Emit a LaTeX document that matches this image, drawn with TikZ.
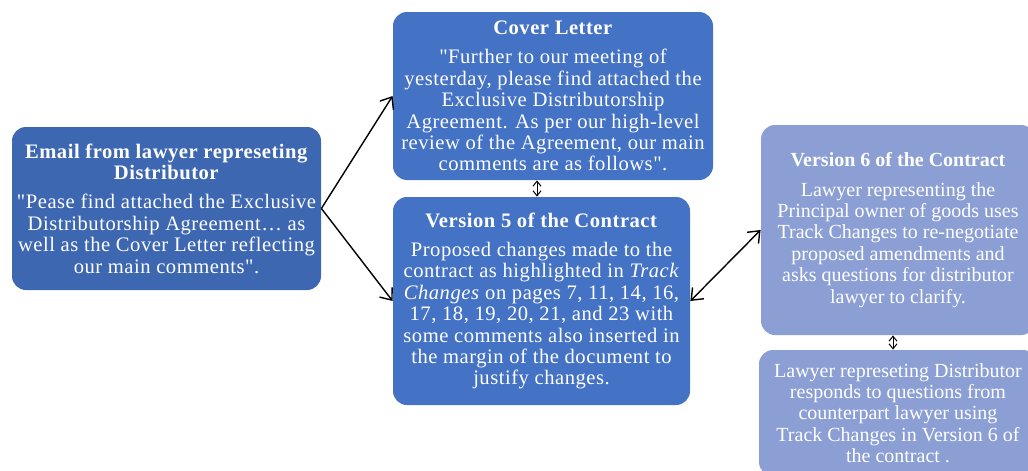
\documentclass[tikz,border=0pt]{standalone}
\usepackage{fontspec}
\setmainfont{Liberation Serif}[LetterSpace=2.5, Ligatures=TeXOff]
\newfontfamily\plainserif{Liberation Serif}[Ligatures=TeXOff]
\usetikzlibrary{arrows.meta}
\definecolor{darkblue}{RGB}{62,103,178}
\definecolor{midblue}{RGB}{68,114,196}
\definecolor{paleblue}{RGB}{140,159,212}

\begin{document}
\begin{tikzpicture}[x=0.5pt, y=-0.5pt,
  box/.style={rounded corners=7pt, align=center, inner sep=0pt, text=white,
    font=\fontsize{10.3}{10.7}\selectfont},
  narrowbox/.style={box, font=\plainserif\fontsize{10}{10.7}\selectfont},
  link/.style={line width=0.7pt, -{Straight Barb[length=5pt,width=8pt]}},
  twolink/.style={line width=0.7pt, {Straight Barb[length=5pt,width=8pt]}-{Straight Barb[length=5pt,width=8pt]}},
  tinylink/.style={line width=0.5pt, {Straight Barb[length=2.5pt,width=4pt]}-{Straight Barb[length=2.5pt,width=4pt]}}]
\useasboundingbox (0, 0) rectangle (1028, 471);
\clip (0, 0) rectangle (1028, 471);
\node [box, fill=darkblue, minimum width=154.5pt, minimum height=81.5pt] (email) at (166.5, 208.5)
  {\textbf{Email from lawyer represeting}\\\textbf{Distributor}\\[4pt]
   "Pease find attached the Exclusive\\Distributorship Agreement… as\\
   well as the Cover Letter reflecting\\our main comments".};
\node [box, fill=midblue, minimum width=160pt, minimum height=84pt] (cover) at (553, 96)
  {\textbf{Cover Letter}\\[4pt]
   "Further to our meeting of\\yesterday, please find attached the\\
   Exclusive Distributorship\\Agreement. As per our high-level\\
   review of the Agreement, our main\\comments are as follows".};
\node [box, fill=midblue, minimum width=148.5pt, minimum height=104pt] (vfive) at (541.5, 301)
  {\textbf{Version 5 of the Contract}\\[4pt]
   Proposed changes made to the\\contract as highlighted in \textit{Track}\\
   \textit{Changes} on pages 7, 11, 14, 16,\\17, 18, 19, 20, 21, and 23 with\\
   some comments also inserted in\\the margin of the document to\\justify changes.};
\node [narrowbox, fill=paleblue, minimum width=137pt, minimum height=105pt] (vsix) at (898, 230)
  {\textbf{Version 6 of the Contract}\\[4pt]
   Lawyer representing the\\Principal owner of goods uses\\
   Track Changes to re-negotiate\\proposed amendments and\\
   asks questions for distributor\\lawyer to clarify.};
\node [narrowbox, fill=paleblue, minimum width=139pt, minimum height=63pt] (reply) at (898, 413)
  {Lawyer represeting Distributor\\responds to questions from\\
   counterpart lawyer using\\Track Changes in Version 6 of\\the contract .};
\draw [link] (email.east) -- (cover.west);
\draw [link] (email.east) -- (vfive.west);
\draw [twolink] (vfive.east) -- (vsix.west);
\draw [tinylink] ([xshift=-8pt]cover.south) -- ([xshift=-8pt]cover.south |- vfive.north);
\draw [tinylink] ([xshift=-2.5pt]vsix.south) -- ([xshift=-2.5pt]vsix.south |- reply.north);
\end{tikzpicture}
\end{document}
